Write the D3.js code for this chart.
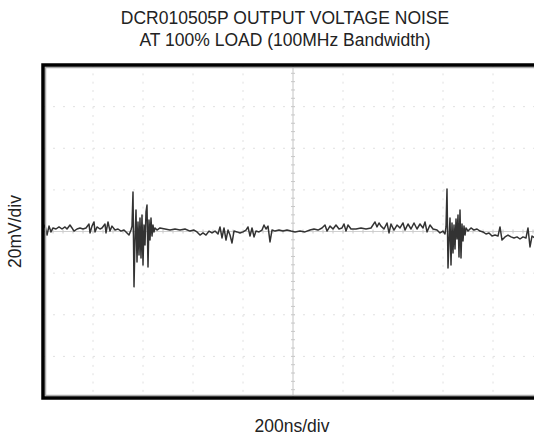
<!DOCTYPE html>
<html>
<head>
<meta charset="utf-8">
<script src="https://cdn.jsdelivr.net/npm/d3@7"></script>
<style>
  body { margin: 0; background: #fff; }
  svg { display: block; font-family: "Liberation Sans", Arial, sans-serif; }
</style>
</head>
<body>
<svg id="chart" width="534" height="435"></svg>
<script>
// scope settings: 200ns/div horizontally, 20mV/div vertically
const titleLines = ["DCR010505P OUTPUT VOLTAGE NOISE", "AT 100% LOAD (100MHz Bandwidth)"];
const xLabel = "200ns/div";
const yLabel = "20mV/div";
const xDivTicks = [0, 200, 400, 600, 800, 1000, 1200, 1400, 1600, 1800, 2000];
const yDivTicks = [-80, -60, -40, -20, 0, 20, 40, 60, 80];

// trace (ns, mV)
const timeNs = [
  0, 8, 16, 24, 32, 40, 52, 64, 76, 88, 96, 108, 116, 124, 136, 148, 160, 172, 184, 188,
  196, 204, 208, 216, 228, 236, 248, 252, 260, 268, 276, 288, 300, 312, 324, 336, 344, 352,
  356, 360, 364, 368, 372, 376, 380, 384, 388, 392, 396, 400, 404, 408, 412, 416, 420, 424,
  428, 432, 436, 440, 444, 448, 456, 468,
  488, 508, 528, 548, 568, 588, 604, 616, 628, 640, 652, 664, 676, 688, 700, 708, 716, 724,
  732, 740, 748, 756, 764, 776, 788, 800, 812, 820, 828, 836, 844, 852, 864, 876, 884, 892,
  900, 908, 916, 928, 944, 960, 976, 992, 1008, 1028, 1048, 1068, 1084, 1100, 1116, 1128,
  1136, 1148, 1160, 1172, 1184, 1196, 1204, 1212, 1220, 1232, 1252, 1272, 1292, 1312, 1328,
  1336, 1344, 1352, 1364, 1376, 1384, 1392, 1404, 1416, 1428, 1440, 1448, 1460, 1472, 1484,
  1496, 1508, 1520, 1528, 1536, 1548, 1560, 1576, 1588, 1600, 1608,
  1612, 1616, 1620, 1624, 1628, 1632, 1636, 1640, 1644, 1648, 1652, 1656, 1660, 1664, 1668,
  1672, 1676, 1680, 1684, 1688, 1692, 1700, 1712, 1724, 1736, 1748, 1760, 1772, 1784, 1796,
  1808, 1820, 1828, 1836, 1848, 1860, 1872, 1884, 1896, 1908, 1920, 1932, 1940, 1948, 1956,
  1968, 1980, 1992, 2000
];
const noiseMv = [
  1.2, 3.1, -1.7, 2.6, -0.2, 1.7, 1.2, 2.2, 1.2, 2.2, 1.2, 3.1, 1.7, 0.2, 1.2, 1.7, 1.2, 1.7, 3.6, -0.7,
  2.6, 4.6, -0.2, 2.2, 1.2, 1.7, 3.6, -0.7, 4.6, 0.2, 2.6, 0.7, 1.2, 0.2, 0.7, -0.7, -1.7, 0.7,
  2.6, 19.0, -26.6, -4.1, 10.3, -14.6, 4.6, -11.3, 6.5, -12.7, 7.9, -16.1, 3.1, -6.5, 9.4, 12.7, -17.0, 5.5,
  -4.1, 6.5, -2.2, 3.1, -0.2, 1.7, 0.7, 1.7,
  1.2, 0.7, 1.2, 0.7, 1.2, 0.2, 0.7, -0.2, -1.7, -0.7, -1.7, 0.2, -0.7, 0.2, -1.2, 2.2, -3.1, 1.7,
  -4.1, 0.7, -1.7, -5.5, 0.2, -0.2, -0.7, -0.2, 0.7, 2.2, -2.2, 1.7, -2.6, 0.2, -0.2, 0.7, 3.1, 1.2,
  2.6, -5.0, 0.7, 0.2, 0.7, 0.2, 0.7, 0.2, -0.2, 0.2, -0.2, 0.7, 1.2, 0.7, 1.7, 3.1,
  0.2, 2.6, 1.2, 3.1, 1.2, 1.7, 3.6, 0.2, 3.1, 1.2, 1.2, 1.7, 1.2, 1.7, 4.6,
  2.2, 4.1, 2.6, 1.2, 4.1, -0.7, 3.6, 0.7, 3.1, 1.7, 4.1, 0.7, 3.6, 1.2, 4.1,
  1.2, 3.6, 1.7, 4.6, -0.2, 3.1, 1.2, 0.7, -0.7, 0.2, -1.2,
  2.2, 20.4, -17.5, -4.1, 6.5, -16.1, 4.1, -10.3, 3.1, -8.4, 6.0, -3.6, 7.9, -12.2, 10.3,
  -12.7, 3.6, -4.6, 2.6, -1.7, 1.7, 0.2, 1.7, 0.7, 1.2, 0.2, -0.2, -1.2, -0.7, -2.2,
  -1.7, -2.2, 2.2, -4.1, -2.6, -1.7, -2.6, -3.1, -2.6, -3.6, -2.6, -3.1, 1.7, -7.4, -2.2,
  -3.1, -2.6, -3.6, -3.1
];

const svg = d3.select("#chart");

const x = d3.scaleLinear().domain([0, 2000]).range([43, 543]);
const y = d3.scaleLinear().domain([-80, 80]).range([398, 65]);

// title
svg.selectAll(".title")
  .data(titleLines)
  .enter()
  .append("text")
  .attr("class", "title")
  .attr("x", 285)
  .attr("y", (d, i) => 24 + i * 22)
  .attr("text-anchor", "middle")
  .attr("font-size", 17.5)
  .attr("fill", "#222")
  .text(d => d);

// faint graticule, dotted every 1/5 division
const grid = svg.append("g").attr("class", "grid");
grid.selectAll(".vgrid")
  .data(xDivTicks.slice(1, -1))
  .enter()
  .append("line")
  .attr("x1", d => x(d)).attr("x2", d => x(d))
  .attr("y1", y(80)).attr("y2", y(-80))
  .attr("stroke", d => d === 1000 ? "#c4c4c4" : "#e0e0e0")
  .attr("stroke-width", 1)
  .attr("stroke-dasharray", d => d === 1000 ? null : "2,6.33");

grid.selectAll(".hgrid")
  .data(yDivTicks.slice(1, -1))
  .enter()
  .append("line")
  .attr("x1", x(0)).attr("x2", x(2000))
  .attr("y1", d => y(d)).attr("y2", d => y(d))
  .attr("stroke", d => d === 0 ? "#d0d0d0" : "#e0e0e0")
  .attr("stroke-width", 1)
  .attr("stroke-dasharray", d => d === 0 ? null : "2,8");

// minor ticks on the centre lines
const minorX = d3.range(0, 2001, 40);
const minorY = d3.range(-80, 81, 4);
grid.selectAll(".tickx")
  .data(minorX)
  .enter()
  .append("line")
  .attr("x1", d => x(d)).attr("x2", d => x(d))
  .attr("y1", y(0) - 2).attr("y2", y(0) + 2)
  .attr("stroke", "#c8c8c8");
grid.selectAll(".ticky")
  .data(minorY)
  .enter()
  .append("line")
  .attr("x1", x(1000) - 2).attr("x2", x(1000) + 2)
  .attr("y1", d => y(d)).attr("y2", d => y(d))
  .attr("stroke", "#c8c8c8");

// trace
const points = timeNs.map((t, i) => [t, noiseMv[i]]);
const line = d3.line()
  .x(d => x(d[0]))
  .y(d => y(d[1]));

svg.append("path")
  .datum(points)
  .attr("d", line)
  .attr("fill", "none")
  .attr("stroke", "#333")
  .attr("stroke-width", 1.5)
  .attr("stroke-linejoin", "round");

// screen frame
svg.append("rect")
  .attr("x", x(0) + 2.5).attr("y", y(80) + 2.5)
  .attr("width", x(2000) - x(0) - 5)
  .attr("height", y(-80) - y(80) - 5)
  .attr("fill", "none")
  .attr("stroke", "#aaa")
  .attr("stroke-width", 1.5);
svg.append("rect")
  .attr("x", x(0)).attr("y", y(80))
  .attr("width", x(2000) - x(0))
  .attr("height", y(-80) - y(80))
  .attr("fill", "none")
  .attr("stroke", "#000")
  .attr("stroke-width", 3.5);

// axis labels
svg.append("text")
  .attr("x", 292)
  .attr("y", 432)
  .attr("text-anchor", "middle")
  .attr("font-size", 17.5)
  .attr("fill", "#222")
  .text(xLabel);

svg.append("text")
  .attr("transform", "translate(21," + y(0) + ") rotate(-90)")
  .attr("text-anchor", "middle")
  .attr("font-size", 17.5)
  .attr("fill", "#222")
  .text(yLabel);
</script>
</body>
</html>
